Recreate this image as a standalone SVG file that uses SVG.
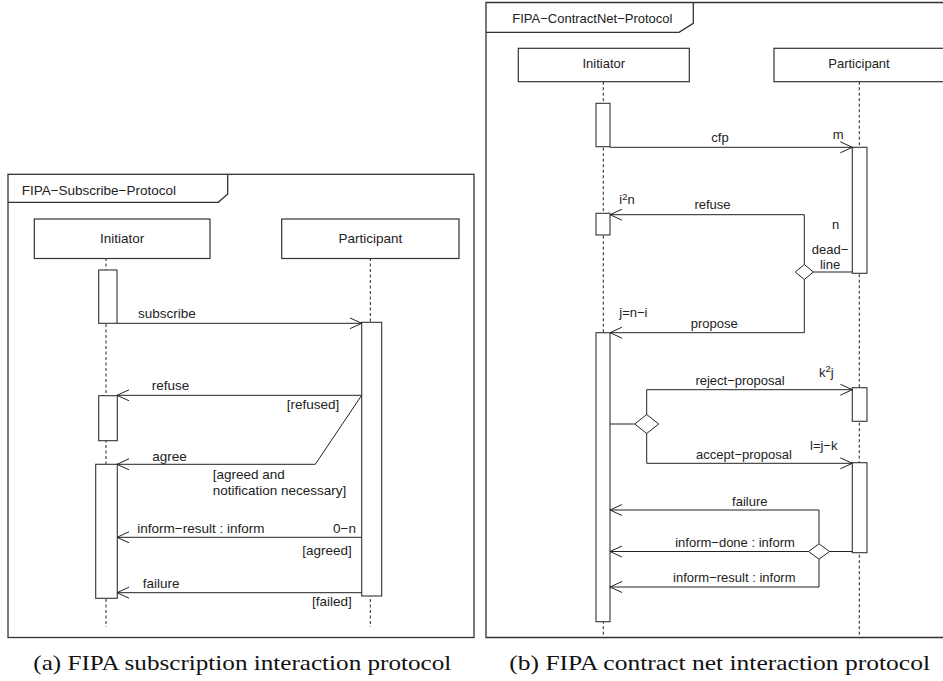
<svg xmlns="http://www.w3.org/2000/svg" width="943" height="681" viewBox="0 0 943 681">
<style>
  .frame { fill: none; stroke: #333; stroke-width: 1.3; }
  .box { fill: #fff; stroke: #333; stroke-width: 1.2; }
  .act { fill: #fff; stroke: #333; stroke-width: 1.1; }
  .life { stroke: #222; stroke-width: 1; stroke-dasharray: 3 2.5; fill: none; }
  .msg { fill: none; stroke: #222; stroke-width: 1; }
  .dia { fill: #fff; stroke: #222; stroke-width: 1; }
  .t { font-family: "Liberation Sans", Arial, sans-serif; fill: #222; }
  .l { font-size: 13.5px; }
  .r { font-size: 13px; }
  .m { text-anchor: middle; }
  .e { text-anchor: end; }
  .sup { font-size: 9.5px; }
  .cap { font-family: "Liberation Serif", "Times New Roman", serif; font-size: 22px; fill: #111; }
</style>
<defs>
  <marker id="open" markerUnits="userSpaceOnUse" markerWidth="14" markerHeight="14" refX="12" refY="6" orient="auto">
    <path d="M0,0.5 L12,6 L0,11.5" fill="none" stroke="#222" stroke-width="1"/>
  </marker>
</defs>
<rect width="943" height="681" fill="#fff"/>

<!-- ============ (a) Subscribe protocol ============ -->
<g id="frame-a">
  <rect class="frame" x="8" y="174.3" width="466" height="463.2"/>
  <path class="frame" d="M8,202.3 H218.3 L227.7,194 V174.3"/>
  <text class="t l" x="21.7" y="194.5">FIPA−Subscribe−Protocol</text>
</g>
<g id="a-lifelines">
  <line class="life" x1="106" y1="258" x2="106" y2="627"/>
  <line class="life" x1="370.3" y1="258" x2="370.3" y2="627"/>
</g>
<g id="a-initiator">
  <rect class="box" x="34.3" y="219" width="175.7" height="39.5"/>
  <text class="t l m" x="122.2" y="242.5">Initiator</text>
</g>
<g id="a-participant">
  <rect class="box" x="281.7" y="219" width="177.3" height="39.5"/>
  <text class="t l m" x="370.3" y="242.5">Participant</text>
</g>
<g id="a-activations">
  <rect class="act" x="98.7" y="270" width="18.3" height="53.3"/>
  <rect class="act" x="361.7" y="322.3" width="20" height="273.7"/>
  <rect class="act" x="98.7" y="395.7" width="18.6" height="45"/>
  <rect class="act" x="95.7" y="464.3" width="21.6" height="134"/>
</g>
<g id="a-connectors">
  <path class="msg" d="M117,323.3 H361.7" marker-end="url(#open)"/>
  <path class="msg" d="M361.7,395.3 H117" marker-end="url(#open)"/>
  <path class="msg" d="M361.7,395.3 L315.3,464.3 H117" marker-end="url(#open)"/>
  <path class="msg" d="M361.7,537.3 H117" marker-end="url(#open)"/>
  <path class="msg" d="M361.7,592.7 H117" marker-end="url(#open)"/>
</g>
<g id="a-labels">
  <text class="t l" x="138" y="318">subscribe</text>
  <text class="t l" x="151.7" y="389.5">refuse</text>
  <text class="t l e" x="339.3" y="408.5">[refused]</text>
  <text class="t l" x="152.3" y="460.7">agree</text>
  <text class="t l" x="212.7" y="479.3">[agreed and</text>
  <text class="t l" x="212.7" y="495">notification necessary]</text>
  <text class="t l" x="137.3" y="532.5">inform−result : inform</text>
  <text class="t l e" x="356" y="532.5">0−n</text>
  <text class="t l e" x="351.7" y="555">[agreed]</text>
  <text class="t l" x="142.7" y="587.5">failure</text>
  <text class="t l e" x="351.7" y="606">[failed]</text>
</g>

<!-- ============ (b) Contract net protocol ============ -->
<g id="frame-b">
  <path class="frame" d="M950,2.5 H486 V637.5 H950"/>
  <path class="frame" d="M486,32.3 H679 L693.3,23.3 V2.5"/>
  <text class="t r" x="512.3" y="23.3">FIPA−ContractNet−Protocol</text>
</g>
<g id="b-lifelines">
  <line class="life" x1="603.3" y1="81.7" x2="603.3" y2="637.5"/>
  <line class="life" x1="859.3" y1="81.7" x2="859.3" y2="637.5"/>
</g>
<g id="b-initiator">
  <rect class="box" x="518.3" y="48.3" width="171" height="33.4"/>
  <text class="t r m" x="603.8" y="68.3">Initiator</text>
</g>
<g id="b-participant">
  <rect class="box" x="774" y="48.3" width="171" height="33.4"/>
  <text class="t r m" x="859" y="68.3">Participant</text>
</g>
<g id="b-activations">
  <rect class="act" x="596" y="103.3" width="14" height="43.4"/>
  <rect class="act" x="852.3" y="147.3" width="14.7" height="126"/>
  <rect class="act" x="596" y="213.3" width="14" height="21.7"/>
  <rect class="act" x="596" y="332.7" width="14" height="289"/>
  <rect class="act" x="852.3" y="387.7" width="14.7" height="33.6"/>
  <rect class="act" x="852.3" y="462.7" width="14.7" height="90"/>
</g>
<g id="b-connectors">
  <path class="msg" d="M610,147.3 H852.3" marker-end="url(#open)"/>
  <path class="msg" d="M804.3,264.5 V214.7 H610" marker-end="url(#open)"/>
  <path class="msg" d="M813.3,272 H852.3"/>
  <path class="msg" d="M804.3,279.5 V332.7 H610" marker-end="url(#open)"/>
  <path class="msg" d="M610,424 H634.7"/>
  <path class="msg" d="M646.7,414.5 V389.7 H852.3" marker-end="url(#open)"/>
  <path class="msg" d="M646.7,433.5 V463.3 H852.3" marker-end="url(#open)"/>
  <path class="msg" d="M829.5,551.5 H852.3"/>
  <path class="msg" d="M819,543.8 V510 H610" marker-end="url(#open)"/>
  <path class="msg" d="M808.5,551.5 H610" marker-end="url(#open)"/>
  <path class="msg" d="M819,559.2 V587 H610" marker-end="url(#open)"/>
</g>
<g id="b-decision-deadline">
  <polygon class="dia" points="804.3,264.5 813.3,272 804.3,279.5 795.3,272"/>
</g>
<g id="b-decision-proposal">
  <polygon class="dia" points="646.7,414.5 658.7,424 646.7,433.5 634.7,424"/>
</g>
<g id="b-decision-result">
  <polygon class="dia" points="819,543.8 829.5,551.5 819,559.2 808.5,551.5"/>
</g>
<g id="b-labels">
  <text class="t r m" x="720" y="141.5">cfp</text>
  <text class="t r" x="832.7" y="139">m</text>
  <text class="t r" x="619.3" y="204">i<tspan class="sup" dy="-4.5">2</tspan><tspan dy="4.5">n</tspan></text>
  <text class="t r m" x="712.5" y="209.3">refuse</text>
  <text class="t r" x="832" y="229">n</text>
  <text class="t r m" x="830" y="254.3">dead−</text>
  <text class="t r m" x="830" y="269.3">line</text>
  <text class="t r" x="619.3" y="316.7">j=n−i</text>
  <text class="t r m" x="714.2" y="328.3">propose</text>
  <text class="t r" x="819" y="376.7">k<tspan class="sup" dy="-4.5">2</tspan><tspan dy="4.5">j</tspan></text>
  <text class="t r m" x="740" y="385">reject−proposal</text>
  <text class="t r" x="810" y="450">l=j−k</text>
  <text class="t r m" x="744" y="459.3">accept−proposal</text>
  <text class="t r m" x="749.8" y="506">failure</text>
  <text class="t r m" x="735" y="547.3">inform−done : inform</text>
  <text class="t r m" x="734.3" y="581.7">inform−result : inform</text>
</g>

<g id="captions">
  <text class="cap" x="33.3" y="670" textLength="418" lengthAdjust="spacingAndGlyphs">(a) FIPA subscription interaction protocol</text>
  <text class="cap" x="509.3" y="670" textLength="420.7" lengthAdjust="spacingAndGlyphs">(b) FIPA contract net interaction protocol</text>
</g>
</svg>
